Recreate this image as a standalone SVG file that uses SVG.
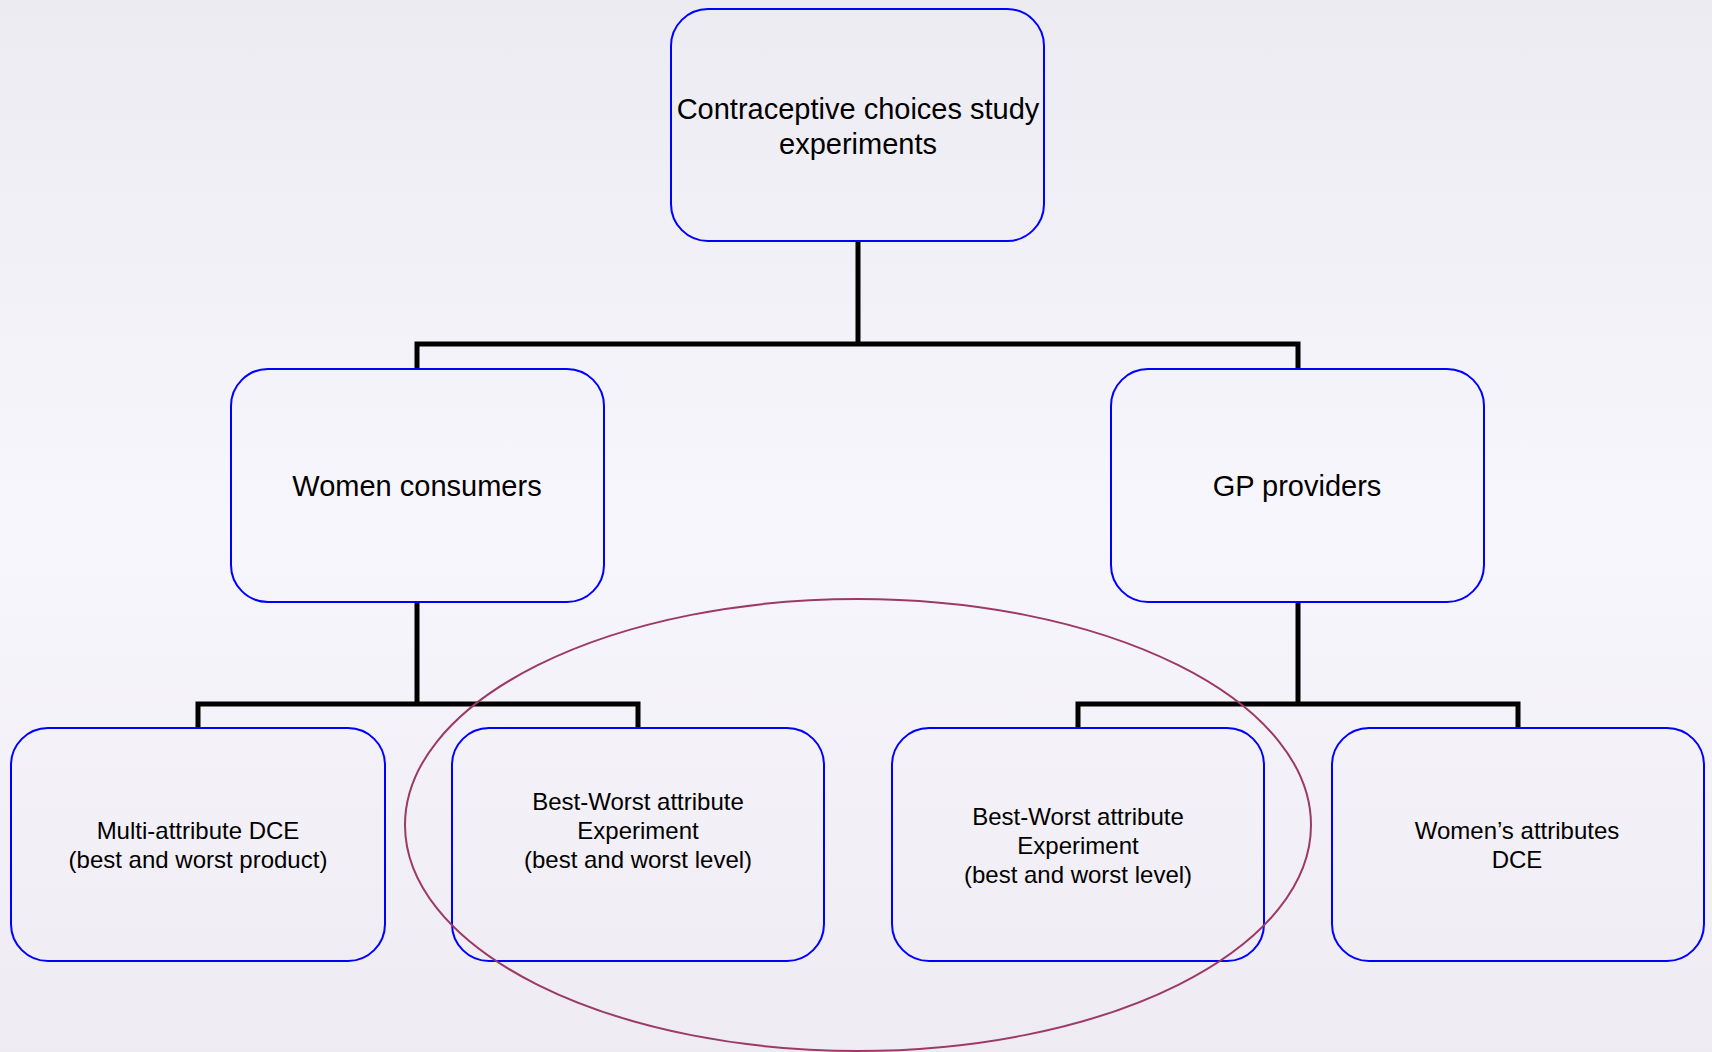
<svg xmlns="http://www.w3.org/2000/svg" width="1712" height="1052" viewBox="0 0 1712 1052">
<defs>
<linearGradient id="bg" x1="0" y1="0" x2="0" y2="1">
<stop offset="0" stop-color="#EDEBF2"/>
<stop offset="0.5" stop-color="#F8F6FD"/>
<stop offset="1" stop-color="#EEEBF2"/>
</linearGradient>
</defs>
<style>
.box{fill:none;stroke:#0000FF;stroke-width:2}
.t{font-family:"Liberation Sans",Arial,sans-serif;fill:#000;text-anchor:middle}
.big{font-size:29px}
.small{font-size:24px}
.conn{fill:none;stroke:#000;stroke-width:5;stroke-linejoin:miter}
.ell{fill:none;stroke:#9B3A66;stroke-width:2}
</style>
<rect x="0" y="0" width="1712" height="1052" fill="url(#bg)"/>
<g id="connectors">
<path class="conn" d="M858,241 V344 M417,368 V344 H1298 V368"/>
<path class="conn" d="M417,602 V704 M198,728 V704 H638 V728"/>
<path class="conn" d="M1298,602 V704 M1078,728 V704 H1518 V728"/>
</g>
<g id="root">
<rect class="box" x="671" y="9" width="373" height="232" rx="37"/>
<text class="t big" x="858" y="119">Contraceptive choices study</text>
<text class="t big" x="858" y="154">experiments</text>
</g>
<g id="women">
<rect class="box" x="231" y="369" width="373" height="233" rx="37"/>
<text class="t big" x="417" y="496">Women consumers</text>
</g>
<g id="gp">
<rect class="box" x="1111" y="369" width="373" height="233" rx="37"/>
<text class="t big" x="1297" y="496">GP providers</text>
</g>
<g id="multi">
<rect class="box" x="11" y="728" width="374" height="233" rx="37"/>
<text class="t small" x="198" y="839">Multi-attribute DCE</text>
<text class="t small" x="198" y="868">(best and worst product)</text>
</g>
<g id="bw1">
<rect class="box" x="452" y="728" width="372" height="233" rx="37"/>
<text class="t small" x="638" y="810">Best-Worst attribute</text>
<text class="t small" x="638" y="839">Experiment</text>
<text class="t small" x="638" y="868">(best and worst level)</text>
</g>
<g id="bw2">
<rect class="box" x="892" y="728" width="372" height="233" rx="37"/>
<text class="t small" x="1078" y="825">Best-Worst attribute</text>
<text class="t small" x="1078" y="854">Experiment</text>
<text class="t small" x="1078" y="883">(best and worst level)</text>
</g>
<g id="womenattr">
<rect class="box" x="1332" y="728" width="372" height="233" rx="37"/>
<text class="t small" x="1517" y="839">Women’s attributes</text>
<text class="t small" x="1517" y="868">DCE</text>
</g>
<g id="highlight">
<ellipse class="ell" cx="858" cy="825" rx="453" ry="226"/>
</g>
</svg>
